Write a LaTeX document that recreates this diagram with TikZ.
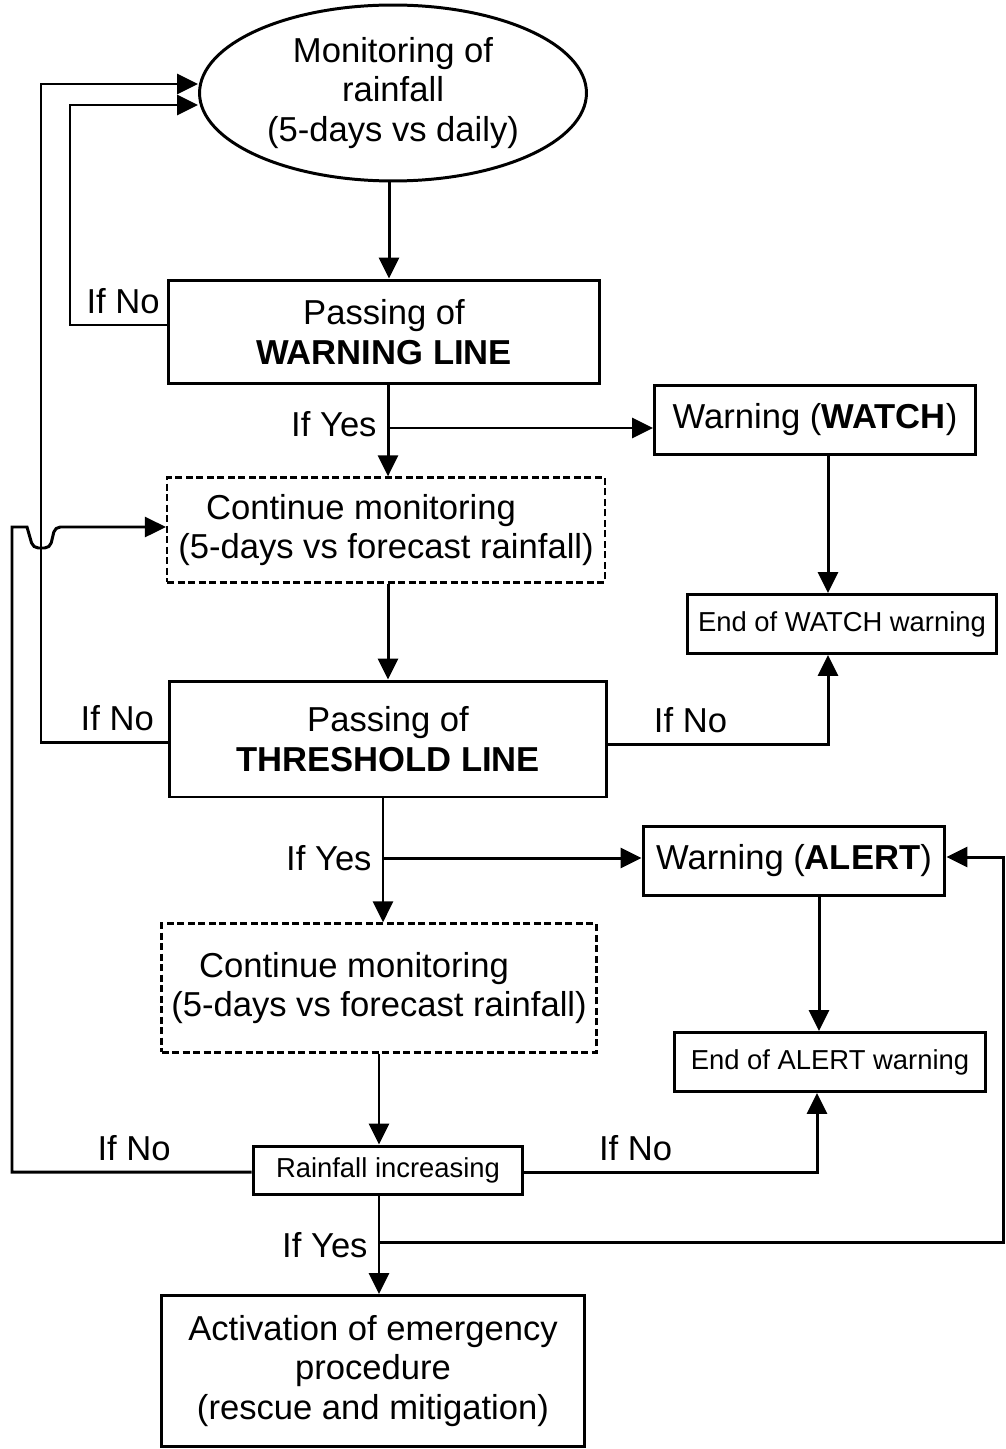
\documentclass[tikz,border=0pt]{standalone}
\usepackage{fontspec}
\setmainfont{Liberation Sans}
\usetikzlibrary{arrows.meta,positioning,shapes.geometric}
\tikzset{
	arr/.style={-{Triangle[length=0.42cm,width=0.4cm]}},
	big/.style={font=\fontsize{19.7}{22.7}\selectfont},
	small/.style={font=\fontsize{15.6}{18}\selectfont},
	box/.style={draw,rectangle,align=center,inner sep=0pt,big},
	dbox/.style={box,line width=1.3pt,dash pattern=on 0.14cm off 0.07cm},
	lbl/.style={big,inner sep=0.2cm}
}

\begin{document}
\begin{tikzpicture}[x=0.02cm,y=-0.02cm,line width=1.7pt]
	\useasboundingbox (0,0) rectangle (1005,1449);
	\node[draw,ellipse,big,align=center,inner sep=0pt,minimum width=7.74cm,minimum height=3.52cm] (mon) at (393,93) {Monitoring of\\rainfall\\(5-days vs daily)};
	\node[box,minimum width=8.64cm,minimum height=2.08cm] (warn) at (384,332) {Passing of\\\textbf{WARNING LINE}};
	\node[box,minimum width=6.42cm,minimum height=1.38cm] (watch) at (815,420) {Warning (\textbf{WATCH})};
	\node[dbox,minimum width=8.76cm,minimum height=2.1cm] (dash1) at (386,530) {Continue monitoring\hspace*{1cm}\\(5-days vs forecast rainfall)};
	\node[box,small,minimum width=6.2cm,minimum height=1.18cm] (endw) at (842,624) {End of WATCH warning};
	\node[box,minimum width=8.74cm,minimum height=2.32cm] (thr) at (388,739) {Passing of\\\textbf{THRESHOLD LINE}};
	\node[box,minimum width=6.04cm,minimum height=1.38cm] (alert) at (794,861) {Warning (\textbf{ALERT})};
	\node[dbox,minimum width=8.7cm,minimum height=2.58cm] (dash2) at (379,988) {Continue monitoring\hspace*{1cm}\\(5-days vs forecast rainfall)};
	\node[box,small,minimum width=6.22cm,minimum height=1.18cm] (enda) at (830,1062) {End of ALERT warning};
	\node[box,small,minimum width=5.4cm,minimum height=0.96cm] (rain) at (388,1170) {Rainfall increasing};
	\node[box,minimum width=8.46cm,minimum height=3.02cm] (act) at (373,1371) {Activation of emergency\\procedure\\(rescue and mitigation)};
	\coordinate (yes1) at (388,428);
	\coordinate (yes2) at (383,858);
	\coordinate (yes3) at (379,1242);

	\draw[arr] (mon.south -| 389,0) -- (warn.north -| 389,0);
	\draw[arr] (warn.west |- 0,325) -- node[lbl,above,pos=0.45]{If No} (70,325) |- (mon.west |- 0,105);
	\draw[arr] (warn.south -| yes1) -- node[lbl,left,pos=0.43]{If Yes} (dash1.north -| yes1);
	\draw[arr] (yes1) -- (watch.west |- yes1);
	\draw[arr] (watch.south -| 828,0) -- (endw.north -| 828,0);
	\draw[arr] (dash1.south -| 388,0) -- (thr.north -| 388,0);
	\draw[arr] (thr.west |- 0,742) -- node[lbl,above,pos=0.4]{If No} (41,742) |- (mon.west |- 0,84);
	\draw[arr] (thr.east |- 0,744) -- node[lbl,above,pos=0.375]{If No} (828,744) -- (endw.south -| 828,0);
	\draw[arr] (thr.south -| yes2) -- node[lbl,left,pos=0.48]{If Yes} (dash2.north -| yes2);
	\draw[arr] (yes2) -- (alert.west |- yes2);
	\draw[arr] (alert.south -| 819,0) -- (enda.north -| 819,0);
	\draw[arr] (dash2.south -| 379,0) -- (rain.north -| 379,0);
	\draw[arr] (rain.west |- 0,1172) -- node[lbl,above,pos=0.49]{If No} (12,1172) -- (12,527) -- (27,527) [rounded corners=3pt] -- (33,548) -- (50,548) -- (55,527) [sharp corners] -- (dash1.west |- 0,527);
	\draw[arr] (rain.east |- 0,1172) -- node[lbl,above,pos=0.38]{If No} (817,1172) -- (enda.south -| 817,0);
	\draw[arr] (rain.south -| yes3) -- node[lbl,left,pos=0.5]{If Yes} (act.north -| yes3);
	\draw[arr] (yes3) -- (1003,1242) |- (alert.east |- 0,857);
\end{tikzpicture}
\end{document}
